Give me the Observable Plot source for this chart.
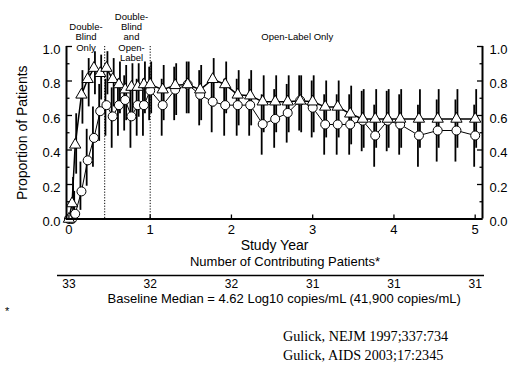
<!DOCTYPE html>
<html>
<head>
<meta charset="utf-8">
<script src="https://cdn.jsdelivr.net/npm/d3@7"></script>
<script src="https://cdn.jsdelivr.net/npm/@observablehq/plot@0.6"></script>
<style>
  body { margin: 0; background: #fff; }
  #wrap { position: relative; width: 517px; height: 367px; font-family: Arial, "Liberation Sans", sans-serif; }
  #wrap svg { display: block; }
  .note { position: absolute; color: #000; white-space: nowrap; }
  .star { left: 5px; top: 305px; font-size: 11px; }
  .ref { left: 283px; font-family: "Liberation Serif", "Times New Roman", serif; font-size: 14.2px; line-height: 18.5px; }
</style>
</head>
<body>
<div id="wrap"></div>
<script>
// Study weeks at which the proportion was assessed
const weeks = [0, 2, 4, 8, 12, 16, 20, 24, 28, 32, 36, 40, 44, 48, 52,
  60, 68, 76, 84, 92, 100, 108, 116, 124, 132, 140, 148, 156, 164, 172, 180, 188, 196, 204, 212,
  224, 236, 248, 260];

// Triangle series: proportion and 95% CI
const triP = [0.0, 0.09, 0.43, 0.72, 0.81, 0.875, 0.845, 0.875, 0.81, 0.78, 0.75, 0.765, 0.765, 0.78, 0.78,
  0.75, 0.775, 0.78, 0.75, 0.81, 0.78, 0.72, 0.715, 0.68, 0.68, 0.68, 0.685, 0.68, 0.65, 0.65, 0.61, 0.58, 0.58, 0.58, 0.58,
  0.58, 0.58, 0.58, 0.58];
const triLo = [null, 0.02, 0.26, 0.55, 0.65, 0.72, 0.69, 0.72, 0.65, 0.61, 0.57, 0.59, 0.59, 0.61, 0.61,
  0.57, 0.60, 0.61, 0.57, 0.65, 0.61, 0.54, 0.54, 0.50, 0.50, 0.50, 0.50, 0.50, 0.47, 0.47, 0.43, 0.41, 0.41, 0.41, 0.41,
  0.41, 0.41, 0.41, 0.41];
const triHi = [null, 0.24, 0.61, 0.86, 0.93, 0.97, 0.95, 0.97, 0.93, 0.91, 0.89, 0.90, 0.90, 0.91, 0.91,
  0.89, 0.90, 0.91, 0.89, 0.93, 0.91, 0.86, 0.86, 0.83, 0.83, 0.83, 0.83, 0.83, 0.80, 0.80, 0.77, 0.75, 0.75, 0.75, 0.75,
  0.75, 0.75, 0.75, 0.75];

// Circle series: proportion and 95% CI
const circP = [0.0, 0.0, 0.03, 0.16, 0.34, 0.47, 0.625, 0.66, 0.595, 0.66, 0.69, 0.595, 0.66, 0.66, 0.745,
  0.66, 0.75, 0.78, 0.72, 0.68, 0.66, 0.66, 0.66, 0.55, 0.58, 0.615, 0.687, 0.645, 0.548, 0.548, 0.548, 0.57, 0.484, 0.57, 0.548,
  0.484, 0.513, 0.513, 0.484];
const circLo = [null, null, 0.0, 0.05, 0.19, 0.30, 0.45, 0.48, 0.41, 0.48, 0.51, 0.41, 0.48, 0.48, 0.57,
  0.48, 0.57, 0.61, 0.54, 0.50, 0.48, 0.48, 0.48, 0.37, 0.41, 0.44, 0.51, 0.47, 0.37, 0.37, 0.37, 0.39, 0.30, 0.39, 0.37,
  0.30, 0.33, 0.33, 0.30];
const circHi = [null, null, 0.16, 0.33, 0.52, 0.65, 0.78, 0.81, 0.76, 0.81, 0.83, 0.76, 0.81, 0.81, 0.88,
  0.81, 0.88, 0.91, 0.86, 0.83, 0.81, 0.81, 0.81, 0.72, 0.75, 0.78, 0.83, 0.80, 0.72, 0.72, 0.72, 0.74, 0.66, 0.74, 0.72,
  0.66, 0.69, 0.69, 0.66];

// Axis ticks and labels
const yearTicks = [0, 1, 2, 3, 4, 5];
const yMajor = [0, 0.2, 0.4, 0.6, 0.8, 1.0];
const yMinor = [0.1, 0.3, 0.5, 0.7, 0.9];
const xDomain = [-0.03, 5.09];

// Study phases
const phaseBreaks = [0.44, 1];
const phaseNames = ["Double-\nBlind\nOnly", "Double-\nBlind\nand\nOpen-\nLabel", "Open-Label Only"];
const phaseX = [0.21, 0.77, 2.81];

// Number of contributing patients at each year
const patientCounts = [33, 32, 32, 31, 31, 31];

const tri = weeks.map((w, i) => ({year: w / 52, p: triP[i], lo: triLo[i], hi: triHi[i]}));
const circ = weeks.map((w, i) => ({year: w / 52, p: circP[i], lo: circLo[i], hi: circHi[i]}));
const withBar = (rows) => rows.filter((d) => d.lo != null);
const phases = phaseNames.map((name, i) => ({name, x: phaseX[i]}));
const counts = patientCounts.map((n, i) => ({n, x: yearTicks[i]}));

const chart = Plot.plot({
  width: 517,
  height: 310,
  marginLeft: 66,
  marginRight: 35,
  marginTop: 46,
  marginBottom: 91.5,
  style: {fontFamily: "Arial, 'Liberation Sans', sans-serif", fontSize: "13px", color: "#000", background: "#fff"},
  x: {domain: xDomain},
  y: {domain: [0, 1]},
  marks: [
    // phase dividers
    Plot.ruleX(phaseBreaks, {stroke: "#000", strokeWidth: 1, strokeDasharray: "1.2,1.6"}),
    Plot.text(phases, {x: "x", y: 1, text: "name", fontSize: 9.5, lineHeight: 1.08, lineAnchor: "middle", dy: -9.5}),

    // confidence intervals
    Plot.ruleX(withBar(circ), {x: "year", y1: "lo", y2: "hi", stroke: "#000", strokeWidth: 1.8, dx: -1}),
    Plot.ruleX(withBar(tri), {x: "year", y1: "lo", y2: "hi", stroke: "#000", strokeWidth: 1.8, dx: 1}),

    // series lines and markers
    Plot.line(circ, {x: "year", y: "p", stroke: "#000", strokeWidth: 1}),
    Plot.line(tri, {x: "year", y: "p", stroke: "#000", strokeWidth: 1.5}),
    Plot.dot(circ, {x: "year", y: "p", r: 4.5, fill: "#fff", stroke: "#000", strokeWidth: 1}),
    Plot.dot(tri, {x: "year", y: "p", symbol: "triangle", r: 4.2, fill: "#fff", stroke: "#000", strokeWidth: 1}),

    // axis frame
    Plot.ruleX(xDomain, {stroke: "#000", strokeWidth: 2}),
    Plot.ruleY([0], {stroke: "#000", strokeWidth: 2}),

    // inward ticks
    Plot.axisY(yMajor, {anchor: "left", tickSize: -6, fill: "none", strokeWidth: 1.3, label: null}),
    Plot.axisY(yMinor, {anchor: "left", tickSize: -3.5, fill: "none", strokeWidth: 1.3, label: null}),
    Plot.axisY(yMajor, {anchor: "right", tickSize: -6, fill: "none", strokeWidth: 1.3, label: null}),
    Plot.axisY(yMinor, {anchor: "right", tickSize: -3.5, fill: "none", strokeWidth: 1.3, label: null}),
    Plot.axisX(yearTicks, {anchor: "bottom", tickSize: -4, fill: "none", strokeWidth: 1.3, label: null}),

    // tick labels
    Plot.axisY(yMajor, {anchor: "left", tickSize: 0, tickPadding: 6, dy: 3, fontSize: 13, tickFormat: d3.format(".1f"), label: null}),
    Plot.axisY(yMajor, {anchor: "right", tickSize: 0, tickPadding: 7, dy: 3, fontSize: 13, tickFormat: d3.format(".1f"), label: null}),
    Plot.axisX(yearTicks, {anchor: "bottom", tickSize: 0, tickPadding: 6, fontSize: 13, label: null}),

    // axis titles
    Plot.text(["Study Year"], {frameAnchor: "bottom", lineAnchor: "middle", dy: 27, fontSize: 14}),
    Plot.text(["Proportion of Patients"], {frameAnchor: "left", textAnchor: "middle", lineAnchor: "middle", dx: -44, rotate: -90, fontSize: 14}),

    // patient counts table
    Plot.text(["Number of Contributing Patients*"], {frameAnchor: "bottom", lineAnchor: "middle", dx: 10.5, dy: 43, fontSize: 13}),
    Plot.ruleY([0], {dy: 56.5, insetLeft: -9, insetRight: -2, stroke: "#000", strokeWidth: 1.5}),
    Plot.text(counts, {x: "x", y: 0, text: "n", lineAnchor: "middle", dy: 65.5, fontSize: 12}),
    Plot.text(["Baseline Median = 4.62 Log10 copies/mL (41,900 copies/mL)"], {frameAnchor: "bottom", lineAnchor: "middle", dx: 9.7, dy: 80, fontSize: 13})
  ]
});

const wrap = document.getElementById("wrap");
wrap.appendChild(chart);

const star = document.createElement("div");
star.className = "note star";
star.textContent = "*";
wrap.appendChild(star);

const refs = ["Gulick, NEJM 1997;337:734", "Gulick, AIDS 2003;17:2345"];
refs.forEach((t, i) => {
  const d = document.createElement("div");
  d.className = "note ref";
  d.style.top = (327 + i * 18.5) + "px";
  d.textContent = t;
  wrap.appendChild(d);
});
</script>
</body>
</html>
